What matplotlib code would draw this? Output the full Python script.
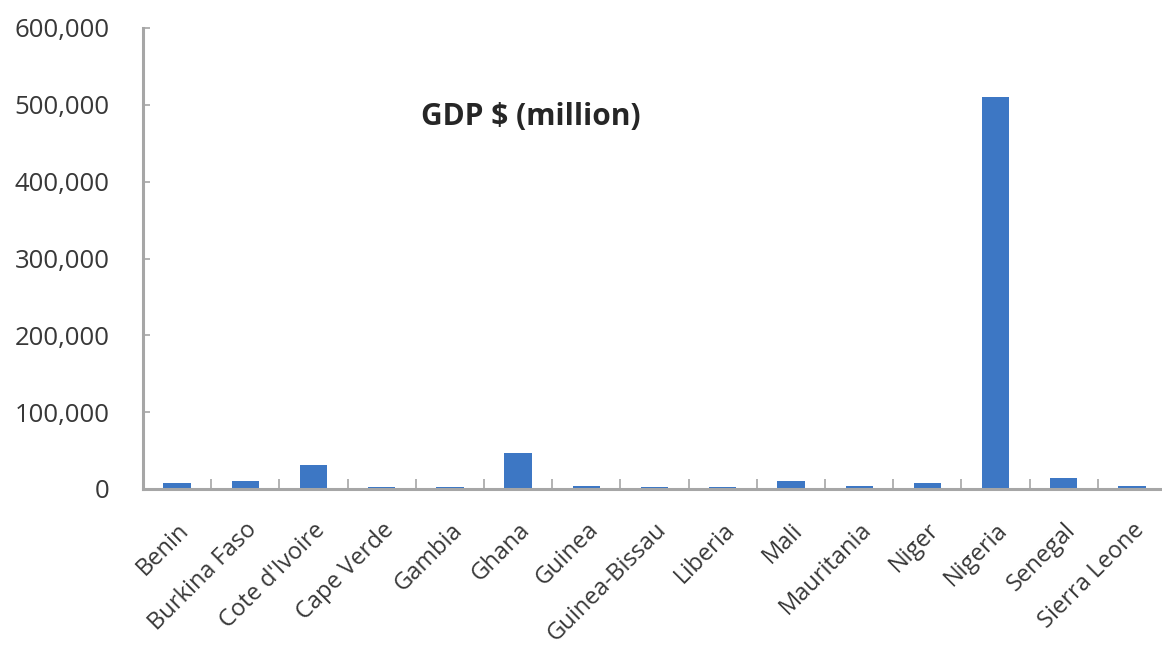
import numpy as np
import matplotlib.pyplot as plt
from matplotlib.ticker import FuncFormatter

# data (GDP, million $)
countries = ["Benin", "Burkina Faso", "Cote d'Ivoire", "Cape Verde", "Gambia",
             "Ghana", "Guinea", "Guinea-Bissau", "Liberia", "Mali",
             "Mauritania", "Niger", "Nigeria", "Senegal", "Sierra Leone"]
gdp = [8000, 11000, 31000, 2500, 2000,
       47000, 4000, 2000, 2500, 11000,
       4000, 8000, 510000, 14000, 4000]
y_ticks = [0, 100000, 200000, 300000, 400000, 500000, 600000]

plt.rcParams["font.family"] = ["Open Sans", "DejaVu Sans"]
text_col = "#383838"
axis_col = "#a6a6a6"

fig = plt.figure(figsize=(11.62, 6.52), dpi=100)
ax = fig.add_axes([143 / 1162, 1 - 489 / 652, 1 - 143 / 1162, (489 - 28) / 652])

x = np.arange(len(countries))
ax.bar(x, gdp, width=0.4, color="#3d77c4", zorder=2)

ax.set_xlim(-0.5, 14.44)
ax.set_ylim(0, 600000)

ax.set_yticks(y_ticks)
ax.yaxis.set_major_formatter(FuncFormatter(lambda v, p: f"{int(v):,}"))
ax.tick_params(axis="y", direction="in", length=5, width=1.2, color=axis_col,
               labelsize=18.5, labelcolor=text_col, pad=24)

ax.set_xticks(x)
ax.set_xticklabels(countries, rotation=45, ha="right", rotation_mode="anchor")
ax.set_xticks(np.arange(0.5, len(countries) - 1), minor=True)
ax.tick_params(axis="x", which="major", length=0, labelsize=17,
               labelcolor=text_col, pad=21)
ax.tick_params(axis="x", which="minor", direction="in", length=7, width=1.2,
               color=axis_col)

for s in ["top", "right"]:
    ax.spines[s].set_visible(False)
for s in ["left", "bottom"]:
    ax.spines[s].set_color(axis_col)
    ax.spines[s].set_linewidth(2.2)

fig.text(531 / 1162, 1 - 117 / 652, "GDP $ (million)", ha="center", va="center",
         fontsize=21.5, fontweight="bold", color="#262626")

fig.savefig("out.png", dpi=100, facecolor="white")
